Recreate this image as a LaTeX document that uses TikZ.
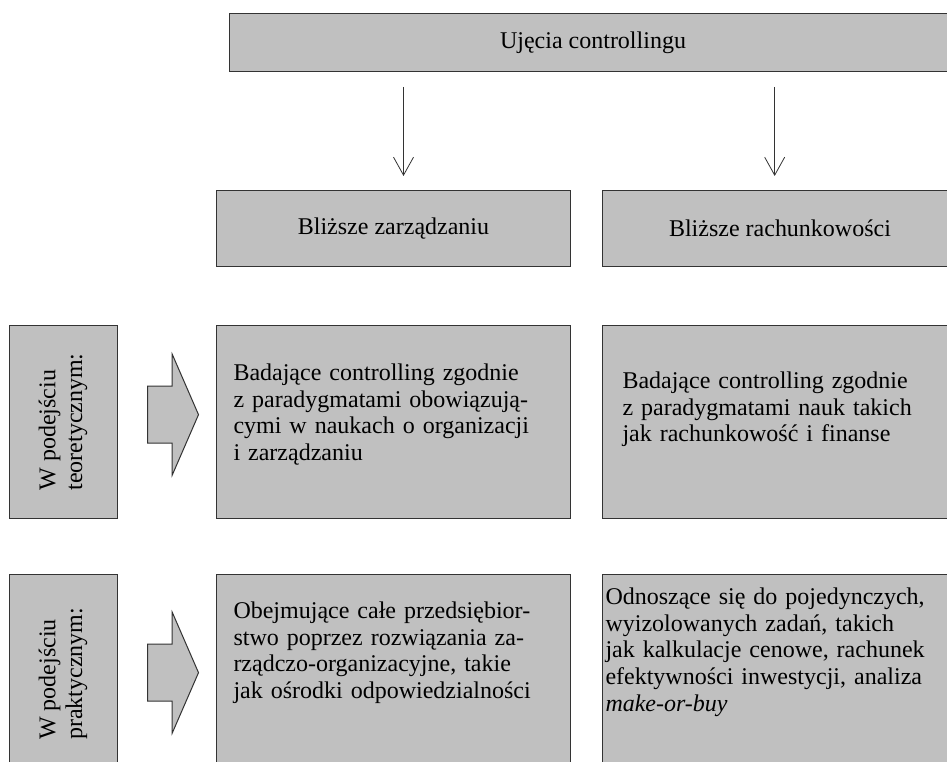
\documentclass[tikz,border=0pt]{standalone}
\usepackage{fontspec}
\setmainfont{Liberation Serif}
\usepackage{graphicx}
\usepackage{tikz}
\usetikzlibrary{arrows.meta,positioning,shapes.arrows}
\definecolor{boxgray}{RGB}{192,192,192}
\definecolor{edgegray}{RGB}{51,51,51}

\begin{document}
\begin{tikzpicture}[
 node distance=23.25pt and 23.25pt,
 font=\fontsize{18}{20}\selectfont,
 box/.style={draw=edgegray,fill=boxgray,line width=0.75pt,align=center,inner sep=0pt},
 txtbox/.style={box,align=left,inner ysep=0pt},
 side/.style={box,minimum width=81pt,minimum height=144.75pt},
 blockarrow/.style={draw=edgegray,fill=boxgray,line width=0.75pt,single arrow,
              single arrow head extend=24pt,single arrow tip angle=133,
              single arrow head indent=0pt,minimum height=38.25pt,
              inner xsep=0pt,inner ysep=21pt},
 arrow/.style={-{Straight Barb[length=13.5pt,width=15pt]},line width=0.6pt,draw=edgegray,
              shorten <=11.25pt,shorten >=10.5pt}
]
\useasboundingbox (0,0) rectangle (710.25pt,-571.5pt);
\node[box,minimum width=545.25pt,minimum height=43.5pt,anchor=north west] (ujecia) at (171.75pt,-9.75pt) {Ujęcia controllingu};
\node[box,minimum width=265.5pt,minimum height=57pt,below right=88.5pt and -9.75pt of ujecia.south west] (zarz) {Bliższe zarządzaniu};
\node[box,minimum width=266.25pt,minimum height=57pt,right=of zarz] (rach) {Bliższe rachunkowości};
\node[txtbox,text width=240pt,inner xsep=12.75pt,text height=41.25pt,text depth=103.5pt,below=43.5pt of zarz] (teo) {Badające controlling zgodnie\\ z paradygmatami obowiązują-\\ cymi w naukach o organizacji\\ i zarządzaniu};
\node[txtbox,text width=236.25pt,inner xsep=15pt,text height=47.25pt,text depth=97.5pt,right=of teo] (teor) {Badające controlling zgodnie\\ z paradygmatami nauk takich\\ jak rachunkowość i finanse};
\node[txtbox,text width=240pt,inner xsep=12.75pt,text height=33pt,text depth=116.25pt,below=41.25pt of teo] (prak) {Obejmujące całe przedsiębior-\\ stwo poprzez rozwiązania za-\\ rządczo-organizacyjne, takie\\ jak ośrodki odpowiedzialności};
\node[txtbox,text width=261.75pt,inner xsep=2.25pt,text height=22.5pt,text depth=126.75pt,right=of prak] (prakr) {Odnoszące się do pojedynczych,\\ wyizolowanych zadań, takich\\ jak kalkulacje cenowe, rachunek\\ efektywności inwestycji, analiza\\ \textit{make-or-buy}};
\node[side,left=73.5pt of teo] (lteo) {\rotatebox{90}{\begin{tabular}{@{}l@{}}W podejściu\\ teoretycznym:\end{tabular}}};
\node[side,minimum height=149.25pt,left=73.5pt of prak] (lprak) {\rotatebox{90}{\begin{tabular}{@{}l@{}}W podejściu\\ praktycznym:\end{tabular}}};
\node[blockarrow,right=21.75pt of lteo,yshift=5.5pt] (arrteo) {};
\node[blockarrow,right=21.75pt of lprak,yshift=1pt] (arrprak) {};
\draw[arrow] ([xshift=7.5pt]zarz.north |- ujecia.south) -- ([xshift=7.5pt]zarz.north);
\draw[arrow] ([xshift=-4pt]rach.north |- ujecia.south) -- ([xshift=-4pt]rach.north);
\end{tikzpicture}
\end{document}
